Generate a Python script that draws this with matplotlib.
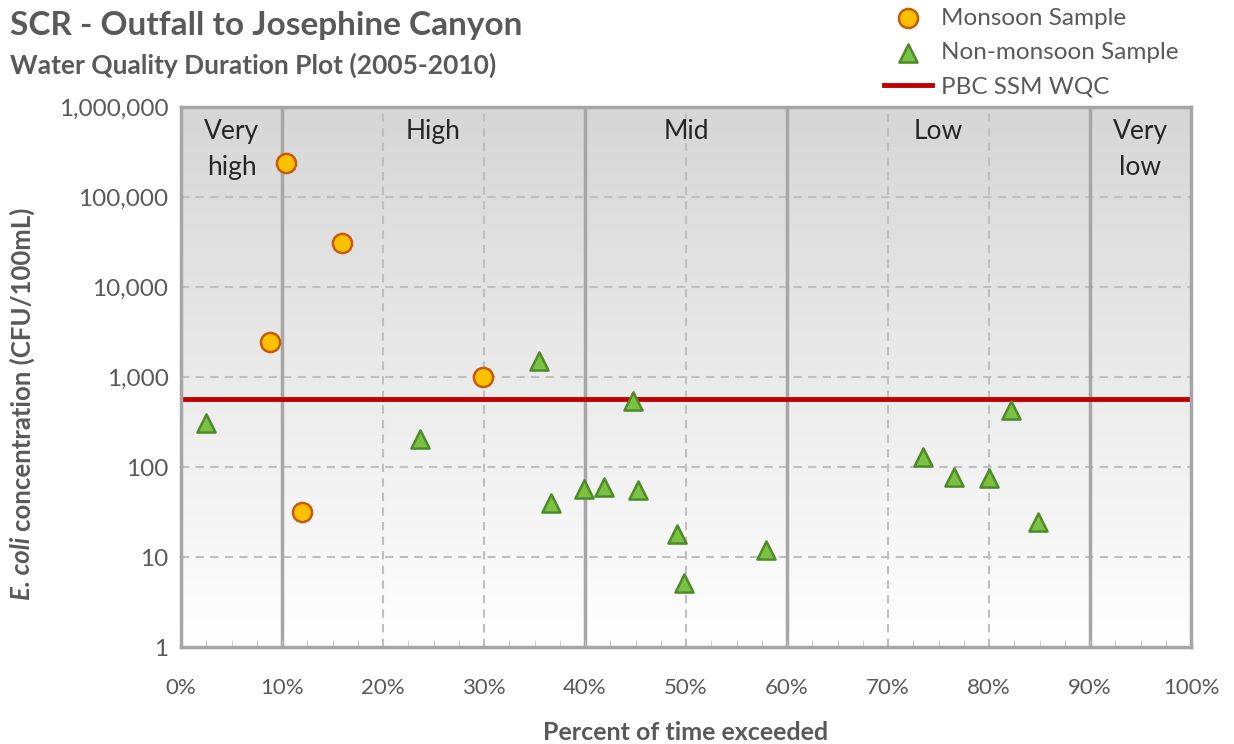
import numpy as np
import matplotlib
matplotlib.use("Agg")
import matplotlib.pyplot as plt
from matplotlib.ticker import FuncFormatter, MultipleLocator, FixedLocator

plt.rcParams['font.family'] = ['Lato', 'DejaVu Sans']

# monsoon samples (percent exceeded, E. coli CFU/100mL)
monsoon_pct = [10.4, 15.9, 8.8, 29.9, 12.0]
monsoon_val = [240000, 30600, 2470, 1010, 32]

# non-monsoon samples
nonmon_pct = [2.5, 23.7, 35.4, 36.6, 39.9, 41.9, 44.8, 45.2, 49.1, 49.8,
              57.9, 73.5, 76.5, 80.0, 82.2, 84.9]
nonmon_val = [306, 204, 1520, 40, 57, 60, 536, 56, 18.2, 5.2,
              12.1, 129, 77, 75, 430, 24.7]

wqc = 575
zone_edges = [10, 40, 60, 90]
zone_names = ["Very\nhigh", "High", "Mid", "Low", "Very\nlow"]
zone_centers = [5, 25, 50, 75, 95]

grey_txt = '#595959'

fig = plt.figure(figsize=(12.34, 7.44), dpi=100)
ax = fig.add_axes([181/1234, 97/744, 1010/1234, 540/744])

# gradient background
grad = np.linspace(0, 1, 256).reshape(-1, 1)
ax.imshow(grad, cmap=matplotlib.colors.LinearSegmentedColormap.from_list(
    'bg', ['#ffffff', '#d6d6d6']), aspect='auto', origin='lower',
    extent=[0, 1, 0, 1], transform=ax.transAxes, zorder=0)

ax.set_yscale('log')
ax.set_xlim(0, 100)
ax.set_ylim(1, 1e6)

# grid lines
for d in range(1, 6):
    ax.axhline(10**d, color='#bfbfbf', lw=1.5, ls=(0, (4, 3)), zorder=1)
for p in range(10, 100, 10):
    if p in zone_edges:
        ax.axvline(p, color='#a6a6a6', lw=2.5, zorder=1)
    else:
        ax.axvline(p, color='#bfbfbf', lw=1.5, ls=(0, (4, 3)), zorder=1)

ax.axhline(wqc, color='#c00000', lw=3.5, zorder=2, label='PBC SSM WQC')

ax.scatter(monsoon_pct, monsoon_val, s=190, marker='o', facecolor='#ffc000',
           edgecolor='#c55a11', linewidth=1.8, zorder=3, label='Monsoon Sample')
ax.scatter(nonmon_pct, nonmon_val, s=170, marker='^', facecolor='#7cc242',
           edgecolor='#4e8a2a', linewidth=1.8, zorder=3, label='Non-monsoon Sample')

for name, c in zip(zone_names, zone_centers):
    ax.text(c, 0.978, name, transform=ax.get_xaxis_transform(), ha='center',
            va='top', fontsize=19, color='#262626', linespacing=1.55, zorder=4)

# axes styling
for s in ax.spines.values():
    s.set_color('#a6a6a6')
    s.set_linewidth(2.5)
ax.xaxis.set_major_locator(MultipleLocator(10))
ax.xaxis.set_minor_locator(MultipleLocator(2.5))
ax.xaxis.set_major_formatter(FuncFormatter(lambda v, p: f"{v:.0f}%"))
ax.tick_params(axis='x', which='both', direction='in', length=5, color='#bfbfbf',
               labelsize=16, labelcolor=grey_txt, pad=22)
ax.yaxis.set_major_locator(FixedLocator([10**d for d in range(7)]))
ax.yaxis.set_minor_locator(FixedLocator([]))
ax.yaxis.set_major_formatter(FuncFormatter(lambda v, p: f"{v:,.0f}"))
ax.tick_params(axis='y', which='both', length=0, labelsize=17.5,
               labelcolor=grey_txt, pad=9)

ax.set_xlabel("Percent of time exceeded", fontsize=18, fontweight='bold',
              color=grey_txt, labelpad=17)

# y label with italic species name
fig.canvas.draw()
r = fig.canvas.get_renderer()
t1 = fig.text(22/1234, 1 - 600/744, "E. coli", rotation=90, fontsize=18.5,
              fontweight='bold', style='italic', color=grey_txt,
              ha='center', va='bottom')
bb = t1.get_window_extent(renderer=r)
fig.text(22/1234, (bb.y1 + 6) / fig.bbox.height, "concentration (CFU/100mL)",
         rotation=90, fontsize=18.5, fontweight='bold', color=grey_txt,
         ha='center', va='bottom')

fig.text(10/1234, 1 - 25/744, "SCR - Outfall to Josephine Canyon", fontsize=24,
         fontweight='bold', color=grey_txt, va='center')
fig.text(10/1234, 1 - 65/744, "Water Quality Duration Plot (2005-2010)",
         fontsize=19, fontweight='bold', color=grey_txt, va='center')

h, l = ax.get_legend_handles_labels()
order = [1, 2, 0]
fig.legend([h[i] for i in order], [l[i] for i in order], loc='upper left',
           bbox_to_anchor=(874/1234, 1.003), frameon=False, fontsize=17.5,
           labelcolor=grey_txt, handlelength=2.0, handletextpad=0.35,
           labelspacing=0.55, borderaxespad=0)

fig.savefig("out.png", dpi=100)
